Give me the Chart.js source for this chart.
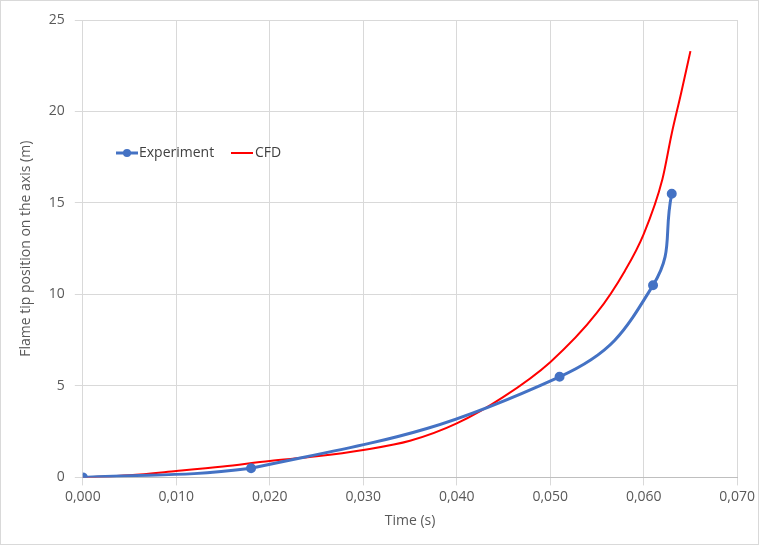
<!DOCTYPE html>
<html><head><meta charset="utf-8">
<script src="https://cdn.jsdelivr.net/npm/chart.js@4"></script>
<style>body{margin:0;background:#fff}#wrap{position:absolute;left:0;top:0;width:759px;height:545px;box-sizing:border-box;border:1px solid #d9d9d9}</style>
</head><body><div id="wrap"><canvas id="c"></canvas></div>
<script>
const expTime = [0, 0.018, 0.051, 0.061, 0.063];
const expPos = [0, 0.5, 5.5, 10.5, 15.5];
const cfdTime = [0, 0.005, 0.010, 0.015, 0.020, 0.025, 0.030, 0.035, 0.040, 0.045, 0.050, 0.055, 0.058, 0.060, 0.062, 0.063, 0.064, 0.065];
const cfdPos = [0, 0.12, 0.35, 0.6, 0.9, 1.15, 1.5, 2.0, 2.95, 4.4, 6.3, 9.0, 11.3, 13.3, 16.3, 18.8, 21.0, 23.3];

const legendPlugin = {
  id: 'inLegend',
  afterDraw(chart) {
    const ctx = chart.ctx;
    ctx.save();
    ctx.font = '14px "Open Sans", sans-serif';
    ctx.textBaseline = 'middle';
    const y = 152;
    ctx.strokeStyle = '#4472C4'; ctx.lineWidth = 3;
    ctx.beginPath(); ctx.moveTo(115, y); ctx.lineTo(137, y); ctx.stroke();
    ctx.fillStyle = '#4472C4';
    ctx.beginPath(); ctx.arc(126, y, 4, 0, Math.PI * 2); ctx.fill();
    ctx.fillStyle = '#404040'; ctx.fillText('Experiment', 138, y);
    ctx.strokeStyle = '#FF0000'; ctx.lineWidth = 2;
    ctx.beginPath(); ctx.moveTo(230, y); ctx.lineTo(252, y); ctx.stroke();
    ctx.fillText('CFD', 254, y);
    ctx.restore();
  }
};

new Chart(document.getElementById('c'), {
  type: 'scatter',
  data: {
    datasets: [
      { label: 'Experiment', data: expTime.map((t, i) => ({ x: t, y: expPos[i] })), showLine: true,
        borderColor: '#4472C4', backgroundColor: '#4472C4', borderWidth: 3, pointRadius: 3.5,
        tension: 0.45 },
      { label: 'CFD', data: cfdTime.map((t, i) => ({ x: t, y: cfdPos[i] })), showLine: true,
        borderColor: '#FF0000', borderWidth: 2, pointRadius: 0, cubicInterpolationMode: 'monotone' }
    ]
  },
  options: {
    responsive: true, maintainAspectRatio: false, animation: false,
    layout: { padding: { left: 13, right: 20, top: 19, bottom: 11 } },
    plugins: { legend: { display: false }, tooltip: { enabled: false } },
    scales: {
      x: { type: 'linear', min: 0, max: 0.07,
        ticks: { stepSize: 0.01, color: '#595959', font: { size: 14, family: '"Open Sans", sans-serif' },
          callback: v => v.toFixed(3).replace('.', ',') },
        grid: { color: '#d9d9d9' }, border: { color: '#bfbfbf' },
        title: { display: true, text: 'Time (s)', color: '#595959', font: { size: 14, family: '"Open Sans", sans-serif' } } },
      y: { min: 0, max: 25,
        ticks: { stepSize: 5, color: '#595959', font: { size: 14, family: '"Open Sans", sans-serif' }, padding: 10 },
        grid: { color: '#d9d9d9' }, border: { display: false },
        title: { display: true, text: 'Flame tip position on the axis (m)', color: '#595959', font: { size: 14, family: '"Open Sans", sans-serif' } } }
    }
  },
  plugins: [legendPlugin]
});
</script></body></html>
